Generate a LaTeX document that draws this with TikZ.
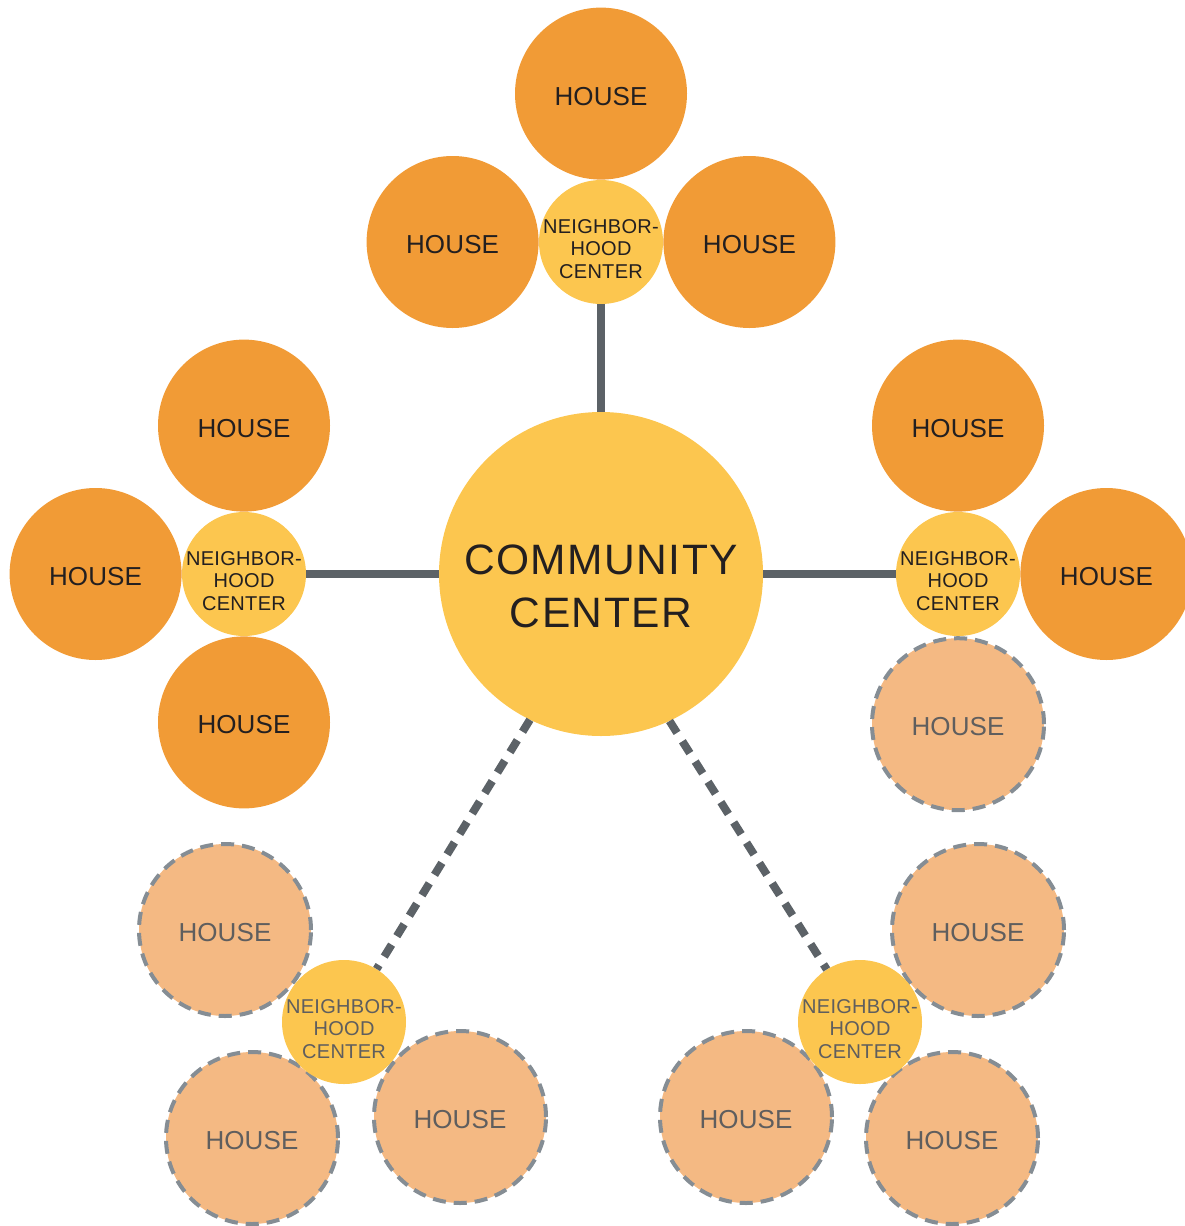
\documentclass[tikz,border=0pt]{standalone}
\usepackage{fontspec}
\setmainfont{Liberation Sans}
\usetikzlibrary{positioning}
\definecolor{houseorange}{HTML}{F19B36}
\definecolor{houselight}{HTML}{F4B983}
\definecolor{centeryellow}{HTML}{FCC64F}
\definecolor{roadgray}{HTML}{5C6267}
\definecolor{dashgray}{HTML}{858D94}
\definecolor{textdark}{HTML}{231F20}
\definecolor{textgray}{HTML}{5F5E5E}
\tikzset{
  house/.style={circle, fill=houseorange, minimum size=172pt, inner sep=0pt,
    text=textdark, text height=23pt, text depth=0pt,
    font=\fontsize{26}{26}\selectfont\addfontfeature{LetterSpace=0.5}},
  plannedhouse/.style={house, fill=houselight, draw=dashgray, line width=4pt,
    dash pattern=on 13pt off 8pt, text=textgray},
  nbcenter/.style={circle, fill=centeryellow, minimum size=124pt, inner sep=-12pt,
    align=center, text=textdark, text height=73.3pt, text depth=0pt,
    font=\fontsize{20}{22.8}\selectfont\addfontfeature{LetterSpace=1.5}},
  plannedcenter/.style={nbcenter, text=textgray},
  commcenter/.style={circle, fill=centeryellow, minimum size=324pt, inner sep=0pt,
    align=center, text=textdark, text height=106.7pt, text depth=0pt,
    font=\fontsize{42.5}{53}\selectfont\addfontfeature{LetterSpace=3.5}},
  road/.style={draw=roadgray, line width=8pt},
  plannedroad/.style={road, dash pattern=on 14pt off 10pt}
}
\begin{document}
\begin{tikzpicture}[x=1pt, y=-1pt]
  \useasboundingbox (0,0) rectangle (1185,1226);

  % community center and neighborhood centers
  \node[commcenter] (cc) at (601,574) {COMMUNITY\\CENTER};
  \node[nbcenter] (nt) at (601,242) {NEIGHBOR-\\HOOD\\CENTER};
  \node[nbcenter] (nl) at (244,574) {NEIGHBOR-\\HOOD\\CENTER};
  \node[nbcenter] (nr) at (958,574) {NEIGHBOR-\\HOOD\\CENTER};

  % roads
  \draw[road] (nt) -- (cc);
  \draw[road] (nl) -- (cc);
  \draw[road] (nr) -- (cc);

  % houses round the built centers
  \node[house, above=0pt of nt] (ht1) {HOUSE};
  \node[house, left=0pt of nt] (ht2) {HOUSE};
  \node[house, right=0pt of nt] (ht3) {HOUSE};
  \node[house, above=0pt of nl] (hl1) {HOUSE};
  \node[house, left=0pt of nl] (hl2) {HOUSE};
  \node[house, below=0pt of nl] (hl3) {HOUSE};
  \node[house, above=0pt of nr] (hr1) {HOUSE};
  \node[house, right=0pt of nr] (hr2) {HOUSE};
  \node[plannedhouse, below=0pt of nr] (hr3) {HOUSE};

  % planned groups
  \foreach \n/\x/\y in {hbl1/225/930, hbl2/252/1138, hbl3/460/1117,
                        hbr1/978/930, hbr2/746/1117, hbr3/952/1138}
    \node[plannedhouse] (\n) at (\x,\y) {HOUSE};
  \node[plannedcenter] (nbl) at (344,1022) {NEIGHBOR-\\HOOD\\CENTER};
  \node[plannedcenter] (nbr) at (860,1022) {NEIGHBOR-\\HOOD\\CENTER};

  \draw[plannedroad] (cc.244) -- (nbl);
  \draw[plannedroad] (cc.295) -- (nbr);
\end{tikzpicture}
\end{document}
